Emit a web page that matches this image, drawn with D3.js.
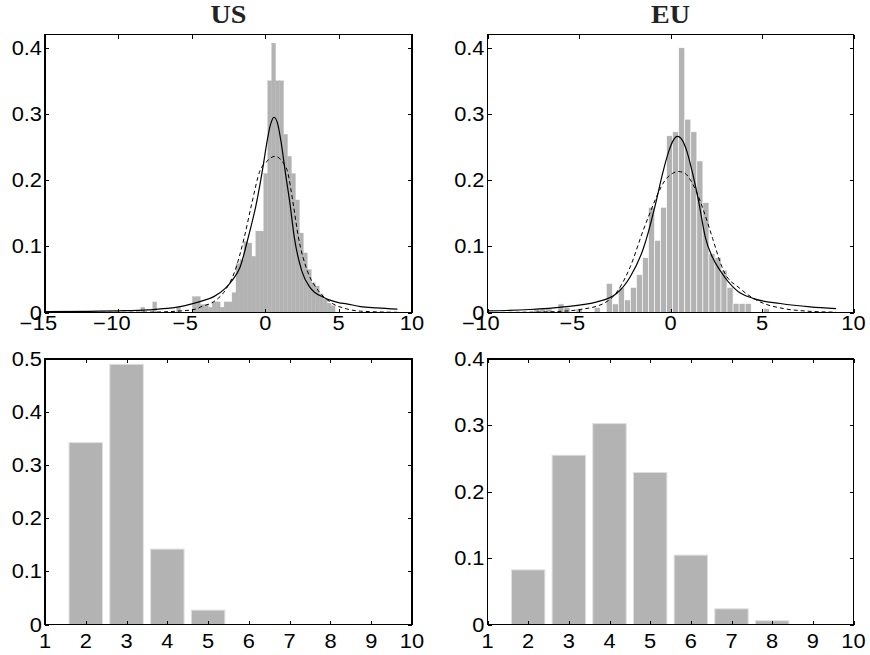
<!DOCTYPE html>
<html>
<head>
<meta charset="utf-8">
<script src="https://cdn.jsdelivr.net/npm/d3@7/dist/d3.min.js"></script>
<style>
  html, body { margin: 0; padding: 0; background: #fff; }
  svg { display: block; }
</style>
</head>
<body>
<svg id="fig" width="870" height="655"></svg>
<script>
// ---------- data ----------
// Return histograms (density) – bin centres and heights
const usBinWidth = 0.27;
const usBinCenters = [-8.335, -7.525, -5.905, -4.825, -4.555, -4.285, -4.015, -3.745, -3.475, -3.205,
  -2.935, -2.665, -2.395, -2.125, -1.855, -1.585, -1.315, -1.045, -0.775, -0.505, -0.235, 0.035,
  0.305, 0.575, 0.845, 1.115, 1.385, 1.655, 1.925, 2.195, 2.465, 2.735, 3.005, 3.275, 3.545,
  3.815, 4.085, 4.355, 4.625];
const usBinDensity = [0.008, 0.016, 0.008, 0.024, 0.024, 0.012, 0.012, 0.008, 0.016, 0.016,
  0.008, 0.016, 0.016, 0.03, 0.074, 0.08, 0.107, 0.105, 0.085, 0.123, 0.123, 0.21,
  0.35, 0.407, 0.35, 0.35, 0.269, 0.236, 0.21, 0.17, 0.12, 0.09, 0.065, 0.045, 0.04,
  0.028, 0.02, 0.014, 0.01];

const euBinWidth = 0.33;
const euBinCenters = [-7.305, -6.975, -6.645, -5.985, -5.655, -4.995, -4.005, -3.345, -3.015,
  -2.685, -2.355, -2.025, -1.695, -1.365, -1.035, -0.705, -0.375, -0.045, 0.285, 0.615,
  0.945, 1.275, 1.605, 1.935, 2.265, 2.595, 2.925, 3.255, 3.585, 3.915, 4.245, 5.235];
const euBinDensity = [0.0055, 0.0055, 0.0055, 0.013, 0.0075, 0.0055, 0.0075, 0.044, 0.013,
  0.038, 0.019, 0.038, 0.057, 0.083, 0.159, 0.109, 0.159, 0.267, 0.273, 0.40,
  0.292, 0.273, 0.229, 0.166, 0.089, 0.083, 0.064, 0.038, 0.0136, 0.0136, 0.0136, 0.006];

// Fitted densities (solid and dashed)
const usSolidX = [-15, -12, -10, -8, -6, -5, -4.44, -3.5, -2.74, -2.2, -1.72, -1.15, -0.6, -0.15,
  0.1, 0.35, 0.6, 0.85, 1.1, 1.35, 1.69, 1.98, 2.49, 3.05, 3.96, 5.0, 5.55, 6.5, 7.6, 9];
const usSolidY = [0.0013, 0.0018, 0.0025, 0.004, 0.008, 0.013, 0.0165, 0.024, 0.036, 0.05, 0.068,
  0.114, 0.165, 0.22, 0.255, 0.283, 0.295, 0.285, 0.255, 0.215, 0.164, 0.114, 0.063, 0.038,
  0.023, 0.015, 0.013, 0.009, 0.007, 0.005];
const usDashX = [-15, -8, -6, -4.65, -4.44, -3.53, -2.74, -2.06, -1.42, -0.92, -0.35, 0.1, 0.67,
  1.23, 1.5, 1.91, 2.26, 2.87, 3.62, 4.41, 5.55, 6.5, 9];
const usDashY = [0.0, 0.0005, 0.002, 0.0055, 0.008, 0.016, 0.033, 0.063, 0.114, 0.164, 0.2146,
  0.228, 0.236, 0.226, 0.2146, 0.164, 0.114, 0.063, 0.033, 0.016, 0.0055, 0.002, 0.0003];

const euSolidX = [-10, -9, -7.67, -5.85, -4.02, -2.93, -2.2, -1.48, -1.33, -0.8, -0.45, -0.1, 0.15,
  0.38, 0.65, 0.9, 1.17, 1.53, 1.9, 2.3, 2.72, 3.63, 4.54, 6.0, 7.63, 9.05];
const euSolidY = [0.0025, 0.003, 0.0045, 0.0085, 0.016, 0.029, 0.054, 0.097, 0.11, 0.166, 0.208,
  0.243, 0.26, 0.266, 0.26, 0.243, 0.2146, 0.169, 0.114, 0.083, 0.063, 0.033, 0.021, 0.0136,
  0.0085, 0.006];
const euDashX = [-10, -7, -6.2, -4.94, -3.66, -2.93, -2.2, -1.48, -1.1, -0.84, -0.29, 0.1, 0.44,
  0.8, 1.2, 1.6, 2.0, 2.3, 2.9, 3.81, 4.9, 6.17, 7.5, 9.05];
const euDashY = [0.0, 0.0008, 0.0015, 0.0045, 0.0136, 0.031, 0.069, 0.125, 0.152, 0.17, 0.2,
  0.21, 0.213, 0.21, 0.195, 0.17, 0.138, 0.112, 0.063, 0.036, 0.016, 0.006, 0.002, 0.0005];

// Distribution of counts
const usCounts = [2, 3, 4, 5, 6, 7, 8, 9];
const usShares = [0.3425, 0.49, 0.142, 0.027, 0, 0, 0, 0];
const euCounts = [2, 3, 4, 5, 6, 7, 8, 9];
const euShares = [0.0823, 0.255, 0.3027, 0.229, 0.1045, 0.0236, 0.0056, 0];

// Axis ticks
const usXTicks = [-15, -10, -5, 0, 5, 10];
const euXTicks = [-10, -5, 0, 5, 10];
const histYTicks = [0, 0.1, 0.2, 0.3, 0.4];
const countXTicks = [1, 2, 3, 4, 5, 6, 7, 8, 9, 10];
const usCountYTicks = [0, 0.1, 0.2, 0.3, 0.4, 0.5];
const euCountYTicks = [0, 0.1, 0.2, 0.3, 0.4];
const titles = ["US", "EU"];

// ---------- drawing ----------
const svg = d3.select("#fig");
const FONT = "'Liberation Sans', Arial, Helvetica, sans-serif";
const FS = 19.5, SX = 1.12, TICK = 4;
const GRAY = "#b3b3b3";

function label(g, x, y, value, anchor) {
  const t = g.append("g").attr("transform", `translate(${x},${y}) scale(${SX},1)`);
  const s = String(Math.abs(value));
  const txt = t.append("text")
    .attr("text-anchor", anchor)
    .attr("font-family", FONT).attr("font-size", FS).attr("fill", "#000")
    .text(anchor === "end" && value < 0 ? "\u2212" + s : s);
  if (value < 0 && anchor === "middle") {
    const w = txt.node().getComputedTextLength();
    t.append("text").attr("x", -w / 2 - 0.5)
      .attr("text-anchor", "end")
      .attr("font-family", FONT).attr("font-size", FS).attr("fill", "#000")
      .text("\u2212");
  }
}

function panel(box, xDomain, yDomain, xTicks, yTicks, xLabelY) {
  const x = d3.scaleLinear().domain(xDomain).range([box.x0, box.x1]);
  const y = d3.scaleLinear().domain(yDomain).range([box.y1, box.y0]);
  const g = svg.append("g");
  const plot = g.append("g");
  const frame = g.append("g");

  // ticks pointing inward on all four sides
  const tickG = frame.append("g").attr("shape-rendering", "crispEdges");
  tickG.append("g").attr("transform", `translate(0,${box.y1})`)
    .call(d3.axisBottom(x).tickValues(xTicks).tickSize(-TICK).tickFormat(""));
  tickG.append("g").attr("transform", `translate(0,${box.y0})`)
    .call(d3.axisTop(x).tickValues(xTicks).tickSize(-TICK).tickFormat(""));
  tickG.append("g").attr("transform", `translate(${box.x0},0)`)
    .call(d3.axisLeft(y).tickValues(yTicks).tickSize(-TICK).tickFormat(""));
  tickG.append("g").attr("transform", `translate(${box.x1},0)`)
    .call(d3.axisRight(y).tickValues(yTicks).tickSize(-TICK).tickFormat(""));
  tickG.selectAll(".domain").remove();
  tickG.selectAll("line").attr("stroke", "#000").attr("stroke-width", 1);

  frame.append("rect")
    .attr("x", box.x0).attr("y", box.y0)
    .attr("width", box.x1 - box.x0).attr("height", box.y1 - box.y0)
    .attr("fill", "none").attr("stroke", "#000").attr("stroke-width", 1.1)
    .attr("shape-rendering", "crispEdges");

  // tick labels
  xTicks.forEach(v => label(frame, x(v), xLabelY, v, "middle"));
  yTicks.forEach(v => label(frame, box.x0 - 3, y(v) + 7, v, "end"));

  return { x, y, plot };
}

function histogram(p, centers, dens, width, edge) {
  p.plot.append("g").selectAll("rect")
    .data(centers.map((c, i) => ({ c, d: dens[i] })))
    .join("rect")
    .attr("x", d => p.x(d.c - width / 2))
    .attr("width", d => p.x(d.c + width / 2) - p.x(d.c - width / 2))
    .attr("y", d => p.y(d.d))
    .attr("height", d => p.y(0) - p.y(d.d))
    .attr("fill", GRAY)
    .attr("stroke", edge ? "#fff" : GRAY)
    .attr("stroke-width", edge ? 0.6 : 0.3);
}

function curve(p, xs, ys, dashed) {
  const line = d3.line().x(d => p.x(d[0])).y(d => p.y(d[1])).curve(d3.curveMonotoneX);
  p.plot.append("path")
    .datum(xs.map((v, i) => [v, ys[i]]))
    .attr("d", line)
    .attr("fill", "none").attr("stroke", "#000")
    .attr("stroke-width", dashed ? 1 : 1.2)
    .attr("stroke-dasharray", dashed ? "4,3" : null);
}

function bars(p, cats, vals) {
  const bw = 0.82;
  p.plot.append("g").selectAll("rect")
    .data(cats.map((c, i) => ({ c, v: vals[i] })).filter(d => d.v > 0))
    .join("rect")
    .attr("x", d => p.x(d.c - bw / 2))
    .attr("width", d => p.x(d.c + bw / 2) - p.x(d.c - bw / 2))
    .attr("y", d => p.y(d.v))
    .attr("height", d => p.y(0) - p.y(d.v))
    .attr("fill", GRAY).attr("stroke", "#dedede").attr("stroke-width", 1);
}

const L = { x0: 45, x1: 412 }, R = { x0: 487.5, x1: 853.5 };
const TOP = { y0: 34.5, y1: 312.5 }, BOT = { y0: 359, y1: 624.5 };

// top row: return densities
const pUS = panel({ ...L, ...TOP }, [-15, 10], [0, 0.42], usXTicks, histYTicks, 330);
histogram(pUS, usBinCenters, usBinDensity, usBinWidth, false);
curve(pUS, usSolidX, usSolidY, false);
curve(pUS, usDashX, usDashY, true);

const pEU = panel({ ...R, ...TOP }, [-10, 10], [0, 0.42], euXTicks, histYTicks, 330);
histogram(pEU, euBinCenters, euBinDensity, euBinWidth, true);
curve(pEU, euSolidX, euSolidY, false);
curve(pEU, euDashX, euDashY, true);

// bottom row: count distributions
const pUSc = panel({ ...L, ...BOT }, [1, 10], [0, 0.5], countXTicks, usCountYTicks, 647.5);
bars(pUSc, usCounts, usShares);
const pEUc = panel({ ...R, ...BOT }, [1, 10], [0, 0.4], countXTicks, euCountYTicks, 647.5);
bars(pEUc, euCounts, euShares);

// titles
[[titles[0], (L.x0 + L.x1) / 2], [titles[1], (R.x0 + R.x1) / 2]].forEach(([t, cx]) => {
  svg.append("g").attr("transform", `translate(${cx},23) scale(1.08,1)`)
    .append("text").attr("text-anchor", "middle")
    .attr("font-family", "'Liberation Serif', 'Times New Roman', serif")
    .attr("font-weight", "bold").attr("font-size", 26).attr("fill", "#222")
    .text(t);
});
</script>
</body>
</html>
